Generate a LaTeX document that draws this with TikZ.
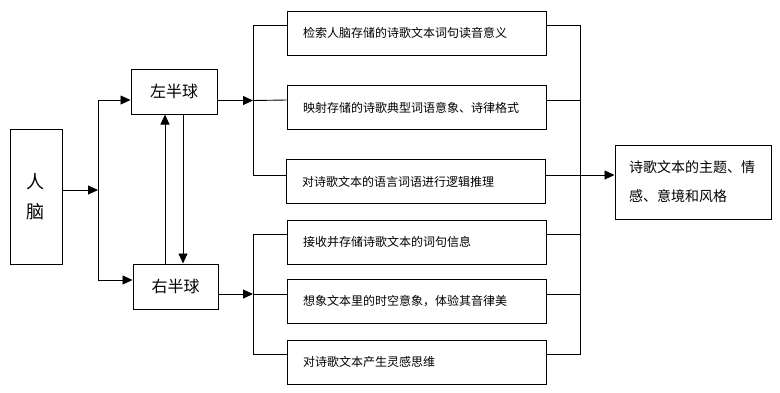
\documentclass[tikz,border=0pt]{standalone}
\usepackage{fontspec}
\newfontfamily\cjk{Noto Sans CJK SC}
\usetikzlibrary{arrows.meta}

\begin{document}
\begin{tikzpicture}[x=1pt, y=-1pt, line width=0.9pt,
    box/.style={draw, line width=1pt, inner sep=0pt, font=\cjk},
    stepbox/.style={box, minimum width=259pt, minimum height=44pt, text width=227pt,
      inner xsep=16pt, align=left, font=\cjk\fontsize{12}{14}\selectfont},
    arr/.style={-{Triangle[length=10pt, width=9pt]}}]
  \useasboundingbox (0,0) rectangle (780,392);
  % 人脑
  \node[box, minimum width=52pt, minimum height=135pt, align=center,
    font=\cjk\fontsize{18}{30}\selectfont] (brain) at (36,196.5) {人\\脑};
  % 左右半球
  \node[box, minimum width=86pt, minimum height=45pt, font=\cjk\fontsize{16}{18}\selectfont]
    (left) at (174,91.5) {左半球};
  \node[box, minimum width=85pt, minimum height=45pt, font=\cjk\fontsize{16}{18}\selectfont]
    (right) at (175.5,286.5) {右半球};
  % 各过程
  \node[stepbox] (t1) at (416.5,33) {检索人脑存储的诗歌文本词句读音意义};
  \node[stepbox] (t2) at (416.5,107.5) {映射存储的诗歌典型词语意象、诗律格式};
  \node[stepbox] (t3) at (415.5,181.5) {对诗歌文本的语言词语进行逻辑推理};
  \node[stepbox] (t4) at (416.5,242) {接收并存储诗歌文本的词句信息};
  \node[stepbox] (t5) at (416.5,301.5) {想象文本里的时空意象，体验其音律美};
  \node[stepbox] (t6) at (416.5,362) {对诗歌文本产生灵感思维};
  % 结果
  \node[box, minimum width=156pt, minimum height=74pt, text width=128pt, inner xsep=14pt,
    align=left, font=\cjk\fontsize{14}{29}\selectfont] (result) at (693,182)
    {诗歌文本的主题、情\\感、意境和风格};
  % 分支点
  \coordinate (split) at (98,190);
  \coordinate (hubL) at (253,100.5);
  \coordinate (hubR) at (253,294);
  \coordinate (merge) at (580,175);
  \draw[arr] ([yshift=6.5pt]brain.east) -- (split);
  \draw[arr] (split) |- ([yshift=-8.5pt]left.west);
  \draw[arr] (split) |- ([yshift=6.5pt]right.west);
  \draw[arr] ([xshift=-10.5pt]right.north) -- ([xshift=-10.5pt]right.north |- left.south);
  \draw[arr] ([xshift=9pt]left.south) -- ([xshift=9pt]left.south |- right.north);
  \draw[arr] ([yshift=-9pt]left.east) -- (hubL);
  \draw[arr] ([yshift=-7.5pt]right.east) -- (hubR);
  \draw (hubL) |- ([yshift=8pt]t1.west);
  \draw (hubL) -- ([yshift=7.5pt]t2.west);
  \draw (hubL) |- ([yshift=6.5pt]t3.west);
  \draw (hubR) |- ([yshift=8pt]t4.west);
  \draw (hubR) -- ([yshift=7.5pt]t5.west);
  \draw (hubR) |- ([yshift=8pt]t6.west);
  \foreach \t/\s in {t1/8, t2/7.5, t3/6.5, t4/8, t5/7.5, t6/8}
    \draw ([yshift=\s pt]\t.east) -| (merge);
  \draw[arr] (merge) -- ([yshift=7pt]result.west);
\end{tikzpicture}
\end{document}
